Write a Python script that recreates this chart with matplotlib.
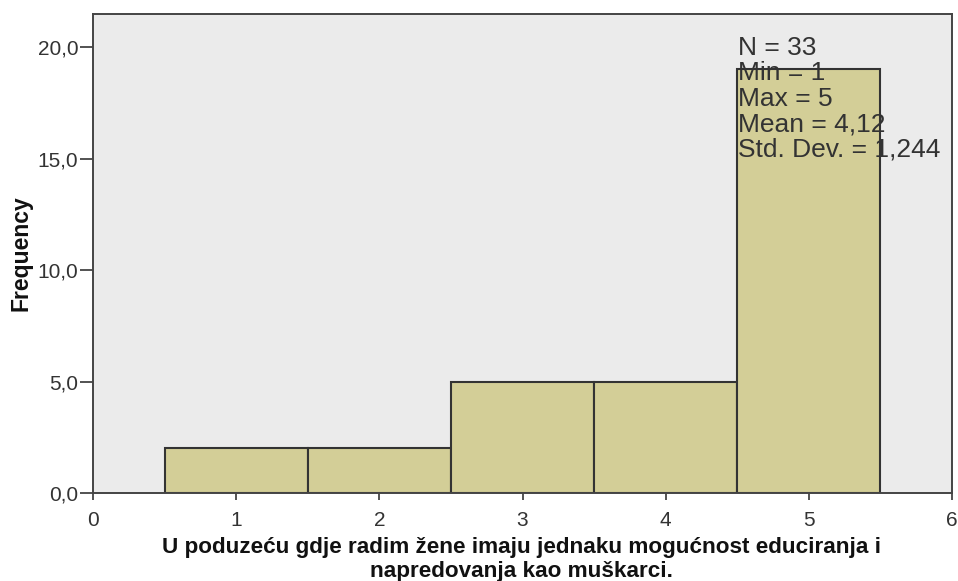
import matplotlib
matplotlib.use("Agg")
import matplotlib.pyplot as plt
import numpy as np

# data
bin_centers = [1, 2, 3, 4, 5]
frequencies = [2, 2, 5, 5, 19]
bin_width = 1.0
x_ticks = [0, 1, 2, 3, 4, 5, 6]
y_ticks = [0, 5, 10, 15, 20]
y_tick_labels = ["0,0", "5,0", "10,0", "15,0", "20,0"]
stats_lines = ["N = 33", "Min = 1", "Max = 5", "Mean = 4,12", "Std. Dev. = 1,244"]
xlabel_lines = ["U poduzeću gdje radim žene imaju jednaku mogućnost educiranja i",
                "napredovanja kao muškarci."]
ylabel_text = "Frequency"

plt.rcParams['font.family'] = ['Liberation Sans', 'DejaVu Sans']

W, H = 958, 581
fig = plt.figure(figsize=(W / 100, H / 100), dpi=100, facecolor='white')
L, R, T, B = 93, 952, 14, 493
ax = fig.add_axes([L / W, 1 - B / H, (R - L) / W, (B - T) / H])
ax.set_facecolor('#ebebeb')

ax.bar(bin_centers, frequencies, width=bin_width, color='#d3ce97',
       edgecolor='#333333', linewidth=1.5, zorder=2)

ax.set_xlim(0, 6)
ax.set_ylim(0, 21.48)
ax.set_xticks(x_ticks)
ax.set_xticklabels([str(t) for t in x_ticks])
ax.set_yticks(y_ticks)
ax.set_yticklabels(y_tick_labels)

for s in ax.spines.values():
    s.set_color('#444444')
    s.set_linewidth(1.4)
    s.set_zorder(3)

ax.tick_params(axis='x', length=5, width=1.3, color='#444444', pad=8,
               labelsize=15, labelcolor='#333333')
ax.tick_params(axis='y', length=9.5, width=1.3, color='#444444', pad=1,
               labelsize=15, labelcolor='#333333')

baselines = [55, 80.5, 106, 131.5, 157]
for line, b in zip(stats_lines, baselines):
    ax.text((738 - L) / (R - L), (B - b) / (B - T), line, transform=ax.transAxes,
            ha='left', va='baseline', fontsize=19, color='#333333', zorder=4)

for line, b in zip(xlabel_lines, [553, 577.5]):
    fig.text(521 / W, 1 - b / H, line, ha='center', va='baseline',
             fontsize=16.2, fontweight='bold', color='#111111')
fig.text(21 / W, 1 - 253.5 / H, ylabel_text, ha='center', va='center',
         rotation=90, fontsize=16.5, fontweight='bold', color='#111111')

fig.savefig('out.png', dpi=100, facecolor='white')
